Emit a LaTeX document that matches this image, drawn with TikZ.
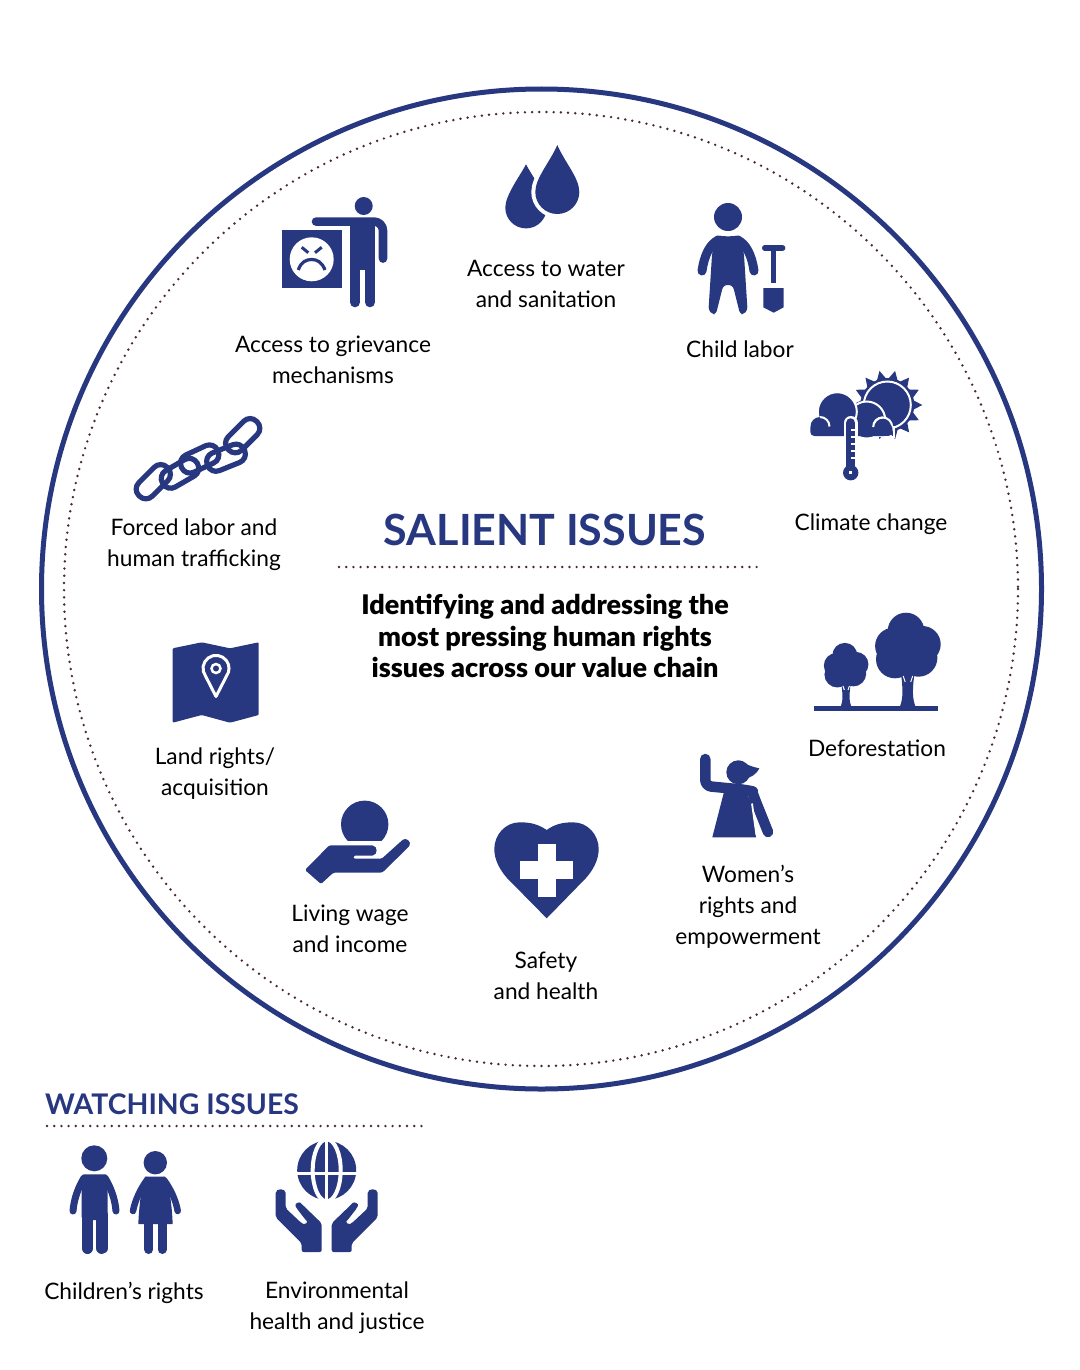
\documentclass[tikz,border=0pt]{standalone}
\usepackage{fontspec}
\setmainfont{Lato}
\newfontfamily\introfont{Lato Black}
\usepackage{tikz}
\definecolor{navy}{RGB}{39,55,128}
\definecolor{dotbrown}{RGB}{74,42,47}

\begin{document}
\begin{tikzpicture}[x=1pt,y=-1pt,
    issue/.style={align=center,inner sep=0pt,font=\fontsize{22.7}{31}\selectfont},
    heading/.style={inner sep=0pt,text=navy,font=\bfseries},
    icon/.style={fill=navy,draw=none},
    limb/.style={draw=navy,line cap=round,line join=round},
    cut/.style={draw=white},
    dotrule/.style={draw=dotbrown,line width=2.7,line cap=round,dash pattern=on 0pt off 7.2pt}]
    \useasboundingbox (0,0) rectangle (1079,1370);

    % Rings
    \draw[navy,line width=5] (541.5,589) circle[radius=500];
    \draw[dotrule] (541,589) circle[radius=477];

    % Centre heading
    \node[heading,font=\fontsize{43}{50}\bfseries\selectfont] (salient) at (545,530) {SALIENT ISSUES};
    \coordinate (ruleL) at (339,567);
    \coordinate (ruleR) at (757,567);
    \draw[dotrule] (ruleL) -- (ruleR);
    \node[align=center,inner sep=0pt,font=\fontsize{27}{31.4}\introfont\selectfont] (intro) at (545,636)
        {Identifying and addressing the\\most pressing human rights\\issues across our value chain};

    % Labels
    \node[issue] (grievance) at (333,360) {Access to grievance\\mechanisms};
    \node[issue] (water) at (546,284) {Access to water\\and sanitation};
    \node[issue] (child) at (740,349) {Child labor};
    \node[issue] (climate) at (871,524) {Climate change};
    \node[issue] (forced) at (194,545) {Forced labor and\\human trafficking};
    \node[issue] (land) at (215,774) {Land rights/\\acquisition};
    \node[issue] (forest) at (877,748) {Deforestation};
    \node[issue] (women) at (748,907) {Women’s\\rights and\\empowerment};
    \node[issue] (safety) at (546,976) {Safety\\and health};
    \node[issue] (wage) at (350,929) {Living wage\\and income};

    % Grievance icon
    \fill[icon] (282,230) rectangle (342,288);
    \fill[white] (311.7,259.3) circle[radius=22];
    \draw[navy,line width=3] (301.7,247.3) -- (308.3,252.7) (321.7,247.3) -- (315,252.7);
    \draw[navy,line width=3.2] (298.3,270) .. controls (301,262) and (306,259.5) .. (311.7,259.5) .. controls (317,259.5) and (322,262) .. (325,270);
    \fill[icon] (363.7,206) circle[radius=9];
    \draw[limb,line width=8.6,rounded corners=9] (316,221.6) -- (383,221.6) -- (383,258.6);
    \fill[icon] (350,221) rectangle (375,270);
    \draw[limb,line width=10] (355,262) -- (355,302.3) (370,262) -- (370,302.3);

    % Water icon
    \fill[icon] (526,164.3) .. controls (520,176) and (505.3,195) .. (505.3,207.7) arc (180:0:20.7) .. controls (546.7,195) and (532,176) .. cycle;
    \path[draw=white,line width=8] (557.3,145) .. controls (550,162) and (535.3,178) .. (535.3,192) arc (180:0:22) .. controls (579.3,178) and (564.6,162) .. cycle;
    \fill[icon] (557.3,145) .. controls (550,162) and (535.3,178) .. (535.3,192) arc (180:0:22) .. controls (579.3,178) and (564.6,162) .. cycle;

    % Child labor icon
    \fill[icon] (728,217) circle[radius=14];
    \fill[icon,rounded corners=3] (715,235) .. controls (722,236.5) and (734,236.5) .. (741,235) -- (744,255) -- (747.5,310) -- (744,314) -- (740,314) -- (733,286) -- (728,284.5) -- (723,286) -- (716,314) -- (712,314) -- (708.5,310) -- (712,255) -- cycle;
    \draw[limb,line width=9] (719,240) .. controls (710,243) and (704,256) .. (702,271);
    \draw[limb,line width=9] (737,240) .. controls (746,243) and (752,256) .. (754,271);
    \draw[limb,line width=5.4] (764.7,248) -- (782.7,248);
    \fill[icon] (771,248) rectangle (776.3,282.7);
    \fill[icon] (763.3,288) -- (783.7,288) -- (783.7,307.3) -- (773.7,312.7) -- (763.3,307.3) -- cycle;

    % Climate icon
    \begin{scope}[shift={(887.3,405)}]
        \foreach \a in {0,25.71,...,340}
            \fill[icon] (\a-11:26) -- (\a:35) -- (\a+11:26) -- cycle;
        \fill[icon] (0,0) circle[radius=27];
        \draw[cut,line width=2] (0,0) circle[radius=23.5];
    \end{scope}
    \draw[cut,line width=2,fill=navy] (866.7,420) circle[radius=18.5];
    \draw[cut,line width=2,fill=navy] (882.7,427) circle[radius=9.5];
    \draw[cut,line width=2,fill=navy] (837.3,411.7) circle[radius=19.5];
    \fill[icon] (820,426.5) circle[radius=9.5];
    \fill[icon,rounded corners=4] (810.3,424) rectangle (892.3,436);
    \draw[cut,line width=2] (893.5,426) -- (893.5,437.2) -- (884,437.2);
    \draw[cut,line width=2] (829.5,426.5) arc (0:-90:9.5);
    \draw[cut,line width=2] (873.2,427) arc (180:270:9.5);
    \draw[cut,line width=14,line cap=round] (850.7,423) -- (850.7,445);
    \draw[limb,line width=9.5] (850.7,423) -- (850.7,468);
    \fill[icon] (850.7,472.7) circle[radius=7.7];
    \fill[white] (849,471) rectangle (852.4,474.4);
    \foreach \t in {430,437,444,451,458}
        \draw[cut,line width=1.6] (851,\t) -- (855.5,\t);

    % Chain icon
    \foreach \cx/\cy/\ang in {153.3/481.7/45,180/473.3/30,199.7/459/25,226/457.7/22,242.7/435.7/45}
        \draw[navy,line width=5.2,rounded corners=9,rotate around={\ang:(\cx,\cy)}] (\cx-20,\cy-9.5) rectangle (\cx+20,\cy+9.5);

    % Land icon
    \fill[icon,rounded corners=1] (172.7,648.3) -- (201.7,642.3) -- (230,648.3) -- (258.7,642.3) -- (258.7,715) -- (230,722.7) -- (201.7,715) -- (172.7,722.7) -- cycle;
    \draw[cut,line width=3,line join=round] (216,696.5) -- (205.5,676) arc (144:396:13) -- cycle;
    \draw[cut,line width=2.5] (216,668.5) circle[radius=4.5];

    % Wage icon
    \begin{scope}
        \clip (330,790) rectangle (400,840);
        \fill[icon] (364.7,824.3) circle[radius=23.7];
    \end{scope}
    \fill[icon,rounded corners=1.5] (305,870) -- (329.3,845.3) -- (371,845.3) .. controls (378,846) and (378,855) .. (371,855.7) -- (353.3,855.7) -- (353.3,858.7) -- (381.7,858.7) -- (401.7,840.7) .. controls (406,837) and (412,842) .. (408.5,847) -- (385,870) .. controls (383,872) and (381,872.7) .. (378,872.7) -- (333.3,872.7) -- (321,884) -- cycle;

    % Safety icon
    \fill[icon] (546.7,830) .. controls (538,824) and (530,822.3) .. (520,822.3) .. controls (505,822.3) and (494.3,835) .. (494.3,849) .. controls (494.3,860) and (500,870) .. (507,878) -- (546.7,918.3) -- (586,878) .. controls (593,870) and (598.7,860) .. (598.7,849) .. controls (598.7,835) and (588,822.3) .. (573,822.3) .. controls (563,822.3) and (555,824) .. cycle;
    \fill[white] (537.7,844) rectangle (555.7,896.7);
    \fill[white] (520,861.3) rectangle (573.4,879.3);

    % Women icon
    \fill[icon] (738.3,772.3) circle[radius=12];
    \fill[icon] (740,760.5) .. controls (745,764) and (752,767) .. (759.3,768.3) .. controls (756,775) and (750,778) .. (744,779) -- cycle;
    \draw[limb,line width=10.5,rounded corners=6] (705.3,759) -- (705.3,786) -- (747,790) .. controls (751,791) and (753,794) .. (754,797) -- (768,832);
    \fill[icon] (725,788) -- (712.3,837.3) -- (756,837.3) -- (751.5,803) -- (745,790) -- cycle;
    \draw[cut,line width=1.8] (752,803.5) -- (756.5,835);

    % Forest icon
    \fill[icon] (813.7,706) rectangle (938,711);
    \foreach \tx/\ts in {907.7/1,846/0.68}{
    \begin{scope}[shift={(\tx,707)},scale=\ts]
        \fill[icon] (-1.7,-76) circle[radius=18.3];
        \fill[icon] (-14.3,-61) circle[radius=18.3];
        \fill[icon] (14.7,-62.7) circle[radius=18.3];
        \fill[icon] (-12.7,-47.7) circle[radius=19];
        \fill[icon] (10.7,-49.3) circle[radius=19];
        \fill[icon] (0,-60) circle[radius=15];
        \fill[icon] (-8,0) .. controls (-4.5,-8) and (-4.5,-18) .. (-7,-35) -- (7,-35) .. controls (4.5,-18) and (4.5,-8) .. (8,0) -- cycle;
        \draw[cut,line width=1] (-2.5,-25) -- (-4.5,-31) (3,-25) -- (5,-31);
    \end{scope}}

    % Watching issues
    \node[heading,anchor=base west,font=\fontsize{28.4}{34}\bfseries\selectfont] (watching) at (45,1114) {WATCHING ISSUES};
    \coordinate (watchL) at (47,1126);
    \coordinate (watchR) at (424,1126);
    \draw[dotrule] (watchL) -- (watchR);
    \node[issue] (children) at (124,1293) {Children’s rights};
    \node[issue] (environment) at (337,1308) {Environmental\\health and justice};

    % Children icon
    \fill[icon] (94.3,1158.3) circle[radius=13];
    \fill[icon,rounded corners=3] (81.7,1174.3) rectangle (107.7,1220);
    \draw[limb,line width=7] (84,1178) .. controls (79,1186) and (74,1198) .. (73,1211);
    \draw[limb,line width=7] (105,1178) .. controls (110,1186) and (115,1198) .. (116,1211);
    \draw[limb,line width=11.6] (87.5,1215) -- (87.5,1248.2) (101.9,1215) -- (101.9,1248.2);
    \fill[icon] (155.3,1162.7) circle[radius=11.7];
    \fill[icon] (145,1176.7) -- (165,1176.7) .. controls (170,1188) and (172,1208) .. (172.7,1224) -- (138.3,1224) .. controls (139,1208) and (141,1188) .. cycle;
    \draw[limb,line width=6.5] (147,1180) .. controls (141,1188) and (135,1200) .. (133,1211);
    \draw[limb,line width=6.5] (164,1180) .. controls (170,1188) and (176,1200) .. (177.7,1211);
    \draw[limb,line width=9] (148.8,1224) -- (148.8,1249.5) (162,1224) -- (162,1249.5);

    % Environment icon
    \fill[icon] (326.7,1170.3) circle[radius=29.5];
    \draw[cut,line width=2.6] (296,1173.3) -- (358,1173.3);
    \draw[cut,line width=3] (326.7,1139) -- (326.7,1202);
    \draw[cut,line width=4] (326.7,1170.3) circle[x radius=14,y radius=31];
    \foreach \s in {1,-1}{
    \begin{scope}[shift={(326.7,0)},xscale=\s]
        \fill[icon,rounded corners=2] (-51,1195) .. controls (-51,1188) and (-41,1188) .. (-41,1195) -- (-41,1208.3) -- (-25,1223.3) .. controls (-21,1225) and (-19,1222) .. (-21,1220) -- (-30,1208.3) .. controls (-33,1203) and (-27,1202) .. (-25,1204) -- (-5,1223.3) -- (-5,1252) -- (-25,1252) -- (-25,1243.3) -- (-51,1217.3) -- cycle;
    \end{scope}}
\end{tikzpicture}
\end{document}
